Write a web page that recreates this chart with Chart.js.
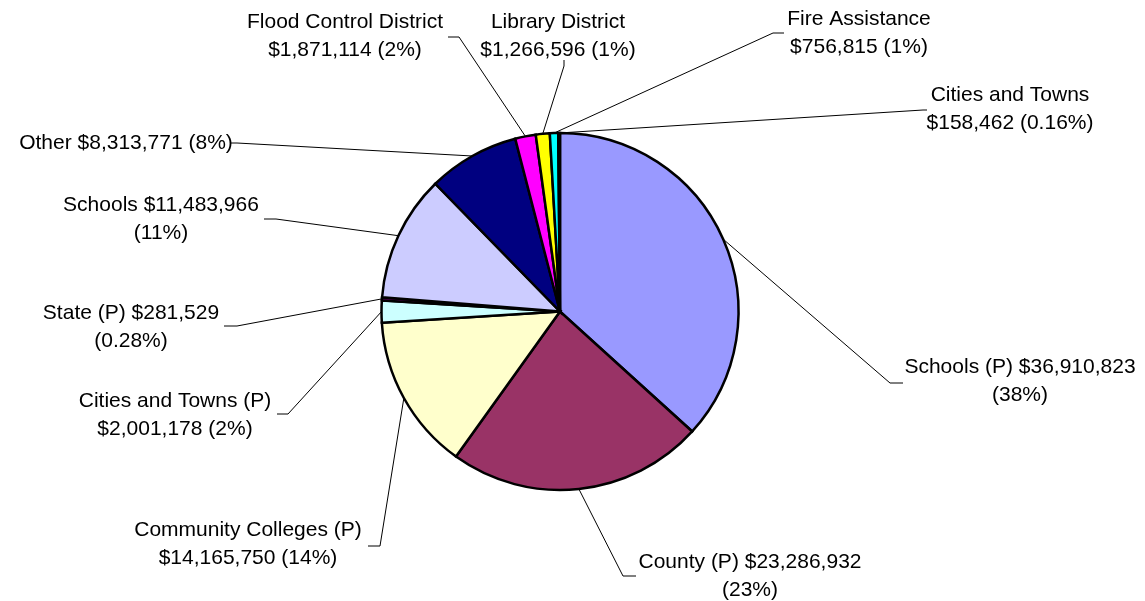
<!DOCTYPE html>
<html>
<head>
<meta charset="utf-8">
<script src="https://cdn.jsdelivr.net/npm/chart.js@4.4.0/dist/chart.umd.min.js"></script>
<style>
  body { margin: 0; background: #fff; }
  #wrap { width: 1145px; height: 601px; position: relative; }
</style>
</head>
<body>
<div id="wrap"><canvas id="myChart"></canvas></div>
<script>
// slices, clockwise from 12 o'clock
var categories = ["Schools (P)", "County (P)", "Community Colleges (P)", "Cities and Towns (P)",
  "State (P)", "Schools", "Other", "Flood Control District", "Library District",
  "Fire Assistance", "Cities and Towns"]
var amounts = [36910823, 23286932, 14165750, 2001178, 281529, 11483966, 8313771,
  1871114, 1266596, 756815, 158462]
var pctLabels = ["38%", "23%", "14%", "2%", "0.28%", "11%", "8%", "2%", "1%", "1%", "0.16%"]
// where the label wraps: after the amount, after the name, or not at all
var wraps = ["value", "value", "name", "name", "value", "value", "none", "name", "name", "name", "name"]
var colors = ["#9999FF", "#993366", "#FFFFCC", "#CCFFFF", "#660066", "#CCCCFF", "#000080",
  "#FF00FF", "#FFFF00", "#00FFFF", "#800080"]

// label boxes: text centre and leader tick (start at text, knee)
var labelLayout = [
  {cx: 1020, cy: 381, tick: [903, 383, 890, 383]},
  {cx: 750, cy: 576, tick: [636, 576, 623, 576]},
  {cx: 248, cy: 544, tick: [368, 546, 380, 546]},
  {cx: 175, cy: 415, tick: [277, 414, 288, 414]},
  {cx: 131, cy: 327, tick: [224, 326, 237, 326]},
  {cx: 161, cy: 219, tick: [264, 219, 276, 219]},
  {cx: 126, cy: 143, tick: [231, 143, 237, 143]},
  {cx: 345, cy: 36, tick: [448, 37, 459, 37]},
  {cx: 558, cy: 36, tick: [564, 60, 564, 66]},
  {cx: 859, cy: 33, tick: [784, 33, 773, 33]},
  {cx: 1010, cy: 109, tick: [927, 110, 923, 110]}
]

function money(v) {
  return "$" + v.toString().replace(/\B(?=(\d{3})+(?!\d))/g, ",")
}

function labelLines(i) {
  var name = categories[i], val = money(amounts[i]), pct = "(" + pctLabels[i] + ")"
  if (wraps[i] == "value") return [name + " " + val, pct]
  if (wraps[i] == "name") return [name, val + " " + pct]
  return [name + " " + val + " " + pct]
}

var leaderLabels = {
  id: 'leaderLabels',
  afterDatasetsDraw: function(chart) {
    var ctx = chart.ctx
    var arcs = chart.getDatasetMeta(0).data
    ctx.save()
    ctx.strokeStyle = "#000"
    ctx.lineWidth = 1
    ctx.fillStyle = "#000"
    ctx.font = '21px "Liberation Sans", Arial, sans-serif'
    ctx.textAlign = "center"
    ctx.textBaseline = "middle"
    for (var i = 0; i < arcs.length; i++) {
      var a = arcs[i]
      var mid = (a.startAngle + a.endAngle) / 2
      var px = a.x + Math.cos(mid) * a.outerRadius
      var py = a.y + Math.sin(mid) * a.outerRadius
      var L = labelLayout[i]
      ctx.beginPath()
      ctx.moveTo(L.tick[0], L.tick[1])
      ctx.lineTo(L.tick[2], L.tick[3])
      ctx.lineTo(px, py)
      ctx.stroke()
      var lines = labelLines(i)
      if (lines.length == 1) {
        ctx.fillText(lines[0], L.cx, L.cy)
      } else {
        ctx.fillText(lines[0], L.cx, L.cy - 14)
        ctx.fillText(lines[1], L.cx, L.cy + 14)
      }
    }
    ctx.restore()
  }
}

document.addEventListener("DOMContentLoaded", function(event) {

var ctx = document.getElementById("myChart")
var myChart = new Chart(ctx, {
  type: 'pie',
  data: {
    labels: categories,
    datasets: [{
      data: amounts,
      backgroundColor: colors,
      borderColor: "#000",
      borderWidth: 2.5,
      borderJoinStyle: 'miter',
      hoverOffset: 0
    }]
  },
  options: {
    responsive: true,
    maintainAspectRatio: false,
    animation: false,
    events: [],
    radius: 178.5,
    layout: { padding: { left: 380, right: 405, top: 131, bottom: 109 } },
    plugins: {
      legend: { display: false },
      tooltip: { enabled: false }
    }
  },
  plugins: [leaderLabels]
})

})
</script>
</body>
</html>
